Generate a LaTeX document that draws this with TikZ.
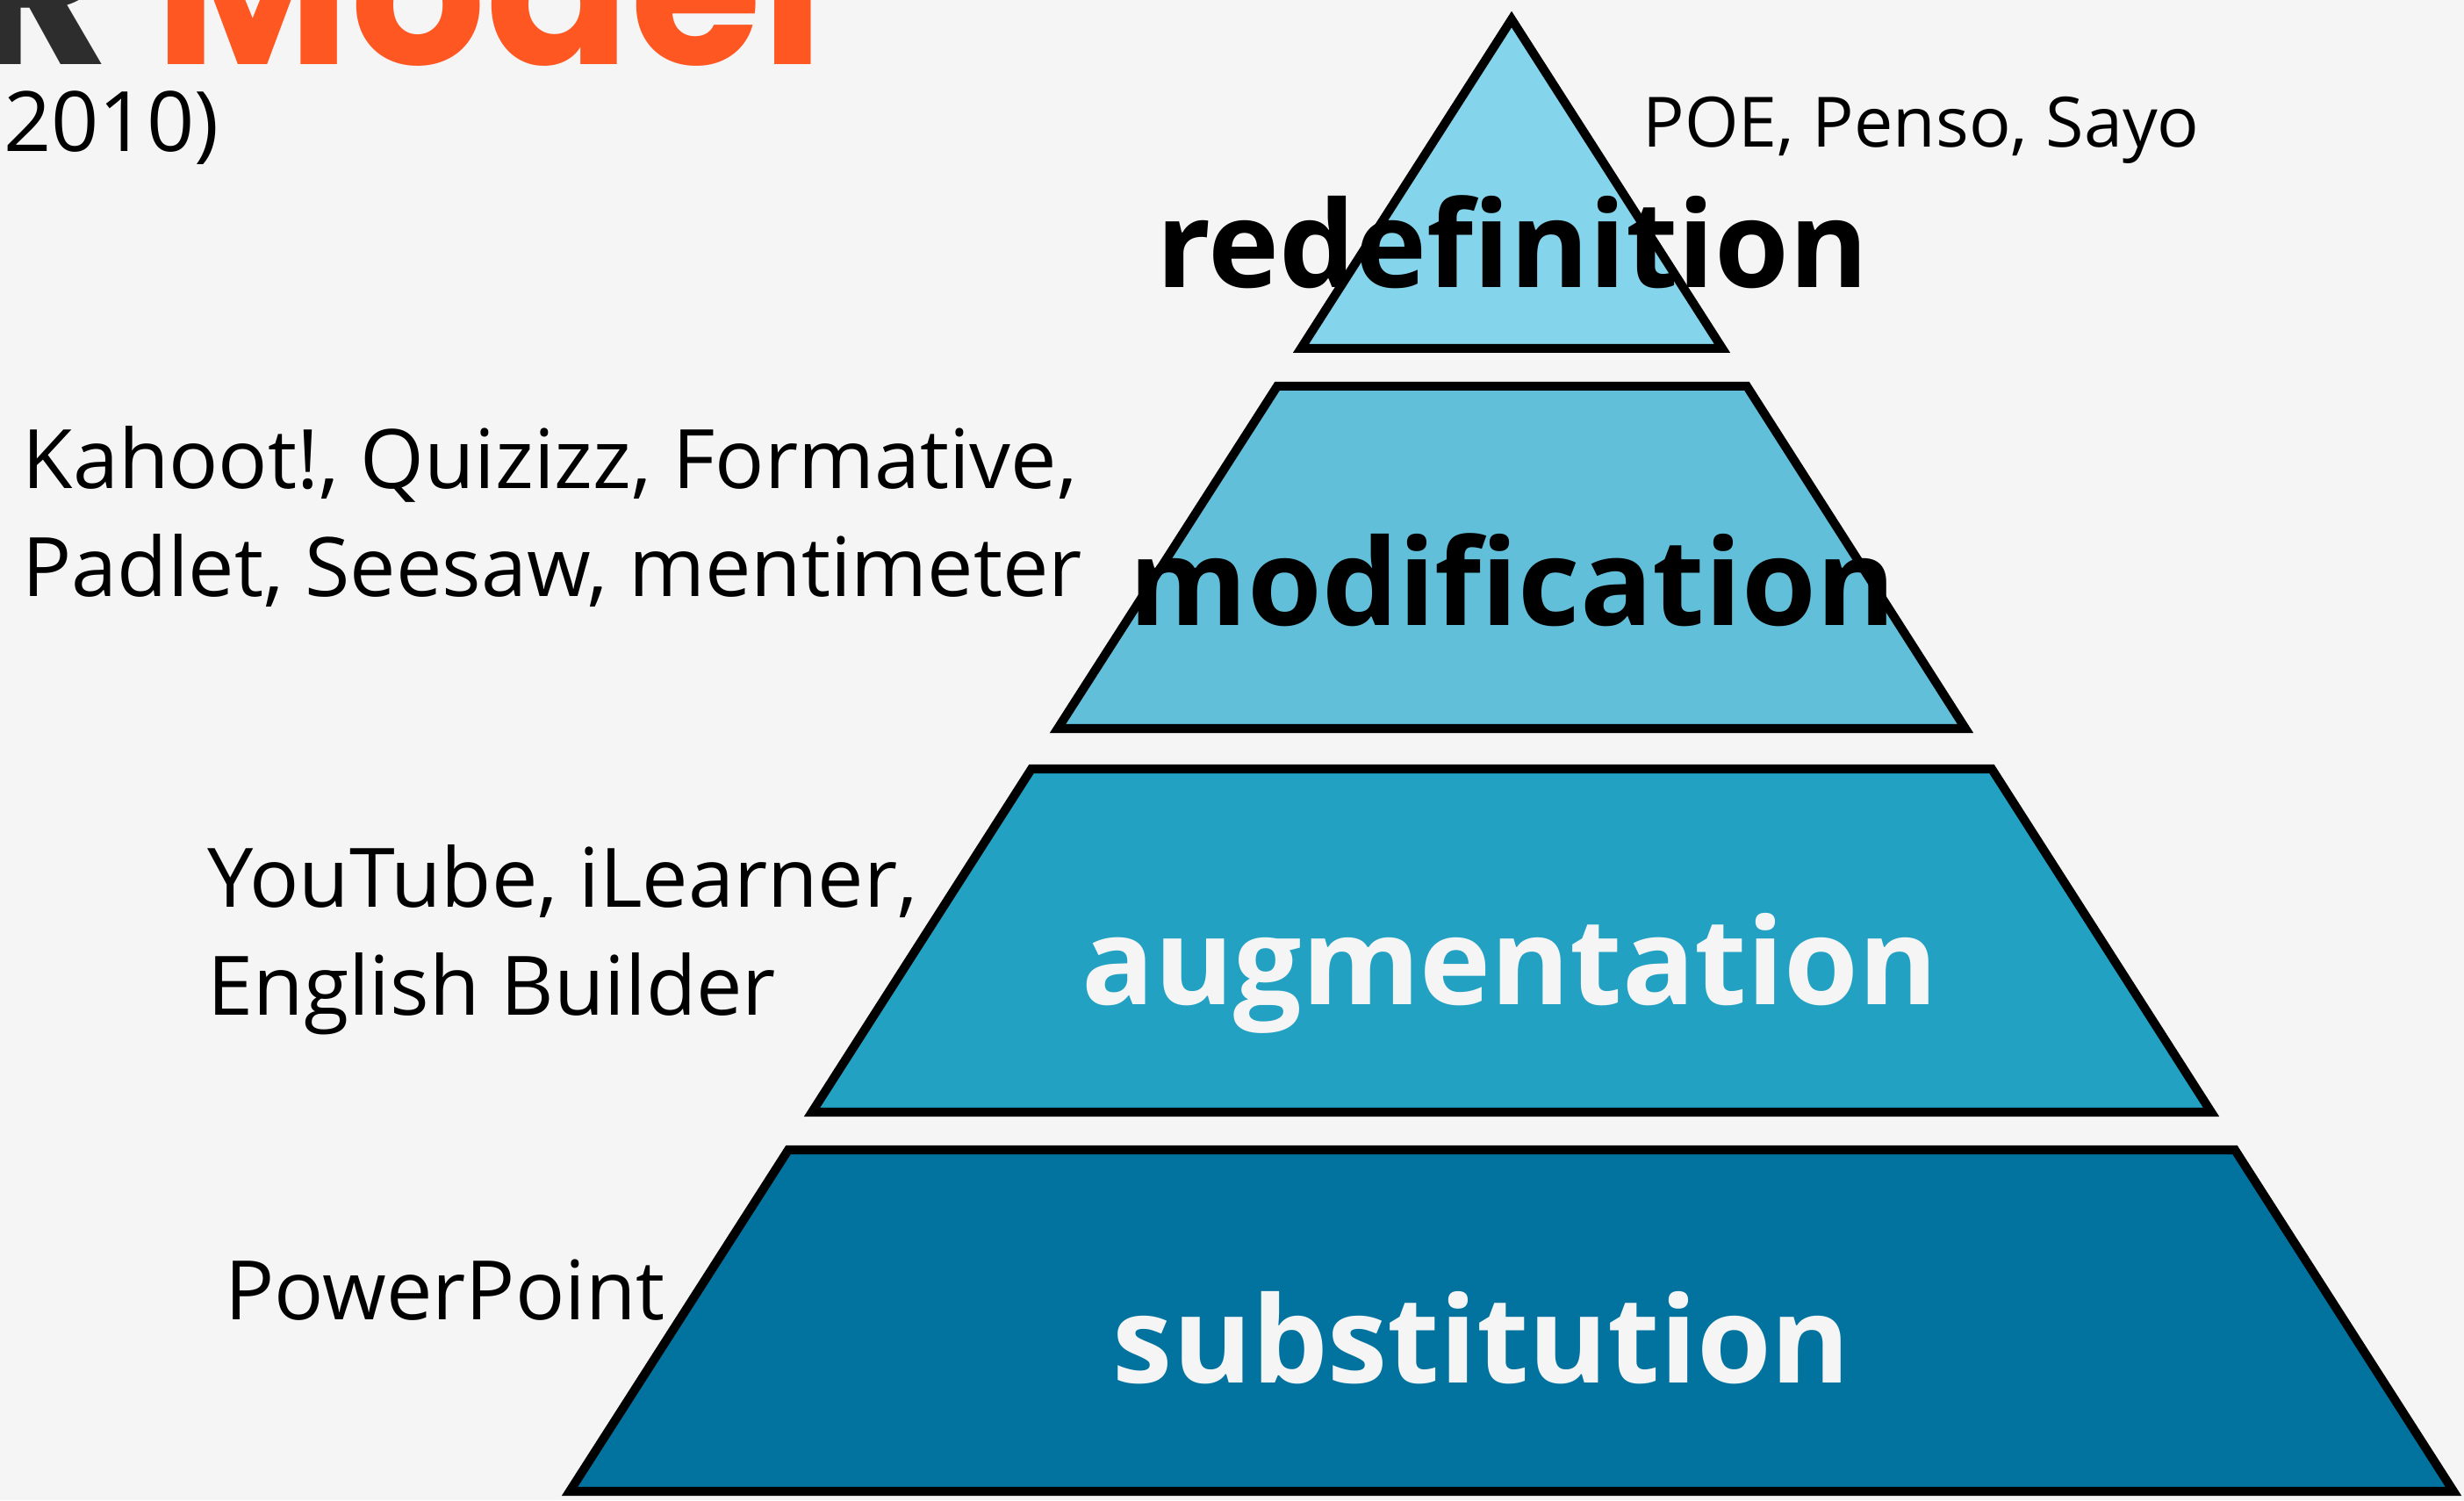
\documentclass[tikz,border=0pt]{standalone}
\usepackage{fontspec}
\setmainfont{Open Sans}
\newfontfamily\titlefont{Poppins}
\usetikzlibrary{positioning}

\definecolor{paper}{HTML}{F5F5F5}
\definecolor{redefcol}{HTML}{84D5EB}
\definecolor{modifcol}{HTML}{62BFDA}
\definecolor{augmcol}{HTML}{22A1C3}
\definecolor{substcol}{HTML}{02739F}
\definecolor{titlegrey}{HTML}{2D2D2D}
\definecolor{titleorange}{HTML}{FF5722}

\begin{document}
\begin{tikzpicture}[
  tier/.style={draw=black,line width=2.85pt},
  level/.style={inner sep=0pt,anchor=base,font=\fontsize{39}{39}\selectfont\bfseries},
  tool/.style={inner sep=0pt,anchor=base west,align=left,
               font=\fontsize{26.6}{35}\selectfont}
]
\useasboundingbox (0,0) rectangle (28.07,17.09);
\clip (0,0) rectangle (28.07,17.09);
\fill[paper] (0,0) rectangle (28.07,17.09);

% title, cut at the page edge
\node[inner sep=0pt,anchor=base east,font=\titlefont\fontsize{69}{69}\selectfont\bfseries]
  (title) at (9.40,16.35) {\color{titlegrey}R \color{titleorange}Model};
\node[inner sep=0pt,anchor=base east,font=\fontsize{27}{30}\selectfont]
  (year) at (2.50,15.36) {2010)};

% pyramid, top to bottom
\draw[tier,fill=redefcol] (17.22,16.87) -- (19.62,13.12) -- (14.82,13.12) -- cycle;
\draw[tier,fill=modifcol] (14.55,12.69) -- (19.90,12.69) -- (22.39,8.79) -- (12.05,8.79) -- cycle;
\draw[tier,fill=augmcol] (11.75,8.33) -- (22.69,8.33) -- (25.19,4.42) -- (9.25,4.42) -- cycle;
\draw[tier,fill=substcol] (8.98,3.99) -- (25.46,3.99) -- (27.95,0.10) -- (6.49,0.10) -- cycle;

\node[level] (redef) at (17.23,13.81) {redefinition};
\node[level] (modif) at (17.23,9.96) {modification};
\node[level,text=paper] (augm) at (17.20,5.64) {augmentation};
\node[level,text=paper] (subst) at (16.88,1.34) {substitution};

% tools for each level (base = last line)
\node[tool,font=\fontsize{22.5}{30}\selectfont] (poe) at (18.71,15.41) {POE, Penso, Sayo};
\node[tool] (kahoot) at (0.25,10.29) {Kahoot!, Quizizz, Formative,\\Padlet, Seesaw, mentimeter};
\node[tool] (youtube) at (2.36,5.52) {YouTube, iLearner,\\English Builder};
\node[tool] (powerpoint) at (2.56,2.06) {PowerPoint};
\end{tikzpicture}
\end{document}
